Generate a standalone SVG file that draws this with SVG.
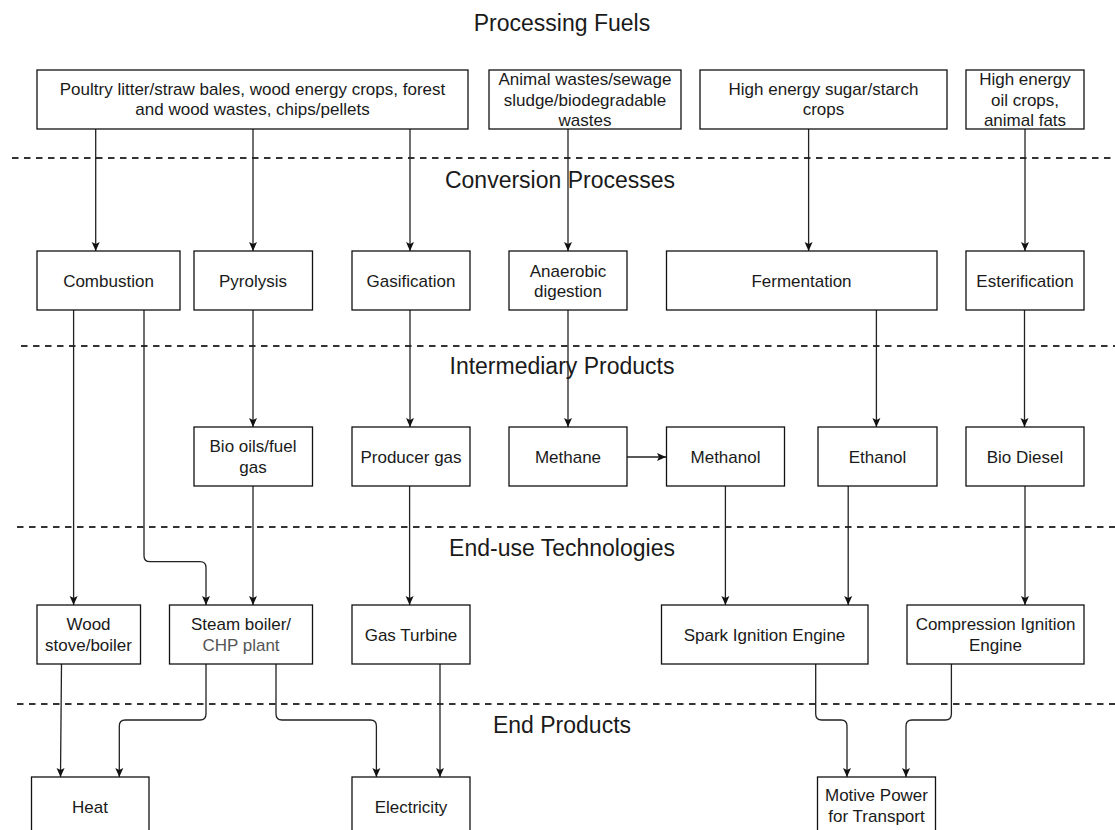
<svg xmlns="http://www.w3.org/2000/svg" width="1115" height="830" viewBox="0 0 1115 830">
<defs>
<style>
.bx{fill:#fff;stroke:#111;stroke-width:1.3}
.t{font-family:"Liberation Sans",Arial,sans-serif;font-size:17px;fill:#1a1a1a;text-anchor:middle}
.h{font-family:"Liberation Sans",Arial,sans-serif;font-size:23px;fill:#1a1a1a;text-anchor:middle}
.dash{stroke:#333;stroke-width:2;stroke-dasharray:6.5 5.5;fill:none}
.c{fill:none;stroke:#222;stroke-width:1.3;marker-end:url(#ar)}
</style>
<marker id="ar" markerUnits="userSpaceOnUse" markerWidth="10" markerHeight="10" viewBox="0 0 10 10" refX="9" refY="5" orient="auto">
<path d="M0,1 L9,5 L0,9 L2,5 z" fill="#111"/>
</marker>
</defs>
<rect width="1115" height="830" fill="#fff"/>

<g id="section-labels">
<text class="h" x="562" y="30.5">Processing Fuels</text>
<text class="h" x="560" y="187.5">Conversion Processes</text>
<text class="h" x="562" y="374">Intermediary Products</text>
<text class="h" x="562" y="556">End-use Technologies</text>
<text class="h" x="562" y="733">End Products</text>
</g>

<g id="separators">
<line class="dash" x1="12" y1="158" x2="1115" y2="158"/>
<line class="dash" x1="21" y1="346" x2="1115" y2="346"/>
<line class="dash" x1="17" y1="527" x2="1115" y2="527"/>
<line class="dash" x1="17" y1="704" x2="1115" y2="704"/>
</g>

<g id="connectors">
<path class="c" d="M95.7,129 V251"/>
<path class="c" d="M253,129 V251"/>
<path class="c" d="M410,129 V251"/>
<path class="c" d="M568,129 V251"/>
<path class="c" d="M808.6,129 V251"/>
<path class="c" d="M1025,129 V251"/>

<path class="c" d="M253,310 V427"/>
<path class="c" d="M410,310 V427"/>
<path class="c" d="M568,310 V427"/>
<path class="c" d="M876.4,310 V427"/>
<path class="c" d="M1024.5,310 V427"/>
<path class="c" d="M627,457 H666"/>

<path class="c" d="M73.6,310 V605"/>
<path class="c" d="M144,310 V555.7 Q144,561.7 150,561.7 H200 Q206,561.7 206,567.7 V605"/>
<path class="c" d="M253,486 V605"/>
<path class="c" d="M409.6,486 V605"/>
<path class="c" d="M725.4,486 V605"/>
<path class="c" d="M848.2,486 V605"/>
<path class="c" d="M1025,486 V605"/>

<path class="c" d="M61.5,664 L60.5,777"/>
<path class="c" d="M206,664 V714 Q206,720 200,720 H125.3 Q119.3,720 119.3,726 V777"/>
<path class="c" d="M276,664 V714 Q276,720 282,720 H370.4 Q376.4,720 376.4,726 V777"/>
<path class="c" d="M440,664 V777"/>
<path class="c" d="M815.7,664 V714 Q815.7,720 821.7,720 H841 Q847,720 847,726 V777"/>
<path class="c" d="M951.4,664 V714 Q951.4,720 945.4,720 H912 Q906,720 906,726 V777"/>
</g>

<g id="n-poultry"><rect class="bx" x="37" y="70" width="431" height="59"/>
<text class="t" x="252.5" y="94.5">Poultry litter/straw bales, wood energy crops, forest</text>
<text class="t" x="252.5" y="115">and wood wastes, chips/pellets</text></g>
<g id="n-animal"><rect class="bx" x="489" y="70" width="192" height="59"/>
<text class="t" x="585" y="85">Animal wastes/sewage</text>
<text class="t" x="585" y="105.5">sludge/biodegradable</text>
<text class="t" x="585" y="126">wastes</text></g>
<g id="n-sugar"><rect class="bx" x="700" y="70" width="247" height="59"/>
<text class="t" x="823.5" y="94.5">High energy sugar/starch</text>
<text class="t" x="823.5" y="115">crops</text></g>
<g id="n-oil"><rect class="bx" x="966" y="70" width="118" height="59"/>
<text class="t" x="1025" y="85">High energy</text>
<text class="t" x="1025" y="105.5">oil crops,</text>
<text class="t" x="1025" y="126">animal fats</text></g>

<g id="n-combustion"><rect class="bx" x="37" y="251" width="143" height="59"/>
<text class="t" x="108.5" y="286.5">Combustion</text></g>
<g id="n-pyrolysis"><rect class="bx" x="194" y="251" width="118.5" height="59"/>
<text class="t" x="253" y="286.5">Pyrolysis</text></g>
<g id="n-gasification"><rect class="bx" x="352" y="251" width="118" height="59"/>
<text class="t" x="411" y="286.5">Gasification</text></g>
<g id="n-anaerobic"><rect class="bx" x="509" y="251" width="118" height="59"/>
<text class="t" x="568" y="276.5">Anaerobic</text>
<text class="t" x="568" y="297">digestion</text></g>
<g id="n-fermentation"><rect class="bx" x="666.5" y="251" width="270.5" height="59"/>
<text class="t" x="801.5" y="286.5">Fermentation</text></g>
<g id="n-esterification"><rect class="bx" x="966" y="251" width="118" height="59"/>
<text class="t" x="1025" y="286.5">Esterification</text></g>

<g id="n-biooils"><rect class="bx" x="194" y="427" width="118.5" height="59"/>
<text class="t" x="253" y="452">Bio oils/fuel</text>
<text class="t" x="253" y="472.5">gas</text></g>
<g id="n-producer"><rect class="bx" x="352" y="427" width="118" height="59"/>
<text class="t" x="411" y="462.5">Producer gas</text></g>
<g id="n-methane"><rect class="bx" x="509" y="427" width="118" height="59"/>
<text class="t" x="568" y="462.5">Methane</text></g>
<g id="n-methanol"><rect class="bx" x="666.5" y="427" width="118" height="59"/>
<text class="t" x="725.5" y="462.5">Methanol</text></g>
<g id="n-ethanol"><rect class="bx" x="818" y="427" width="119" height="59"/>
<text class="t" x="877.5" y="462.5">Ethanol</text></g>
<g id="n-biodiesel"><rect class="bx" x="966" y="427" width="118" height="59"/>
<text class="t" x="1025" y="462.5">Bio Diesel</text></g>

<g id="n-woodstove"><rect class="bx" x="37" y="605" width="103.5" height="59"/>
<text class="t" x="88.5" y="630">Wood</text>
<text class="t" x="88.5" y="650.5">stove/boiler</text></g>
<g id="n-steam"><rect class="bx" x="169.5" y="605" width="143" height="59"/>
<text class="t" x="241" y="630">Steam boiler/</text>
<text class="t" x="241" y="650.5" style="fill:#555">CHP plant</text></g>
<g id="n-gasturbine"><rect class="bx" x="352" y="605" width="118" height="59"/>
<text class="t" x="411" y="640.5">Gas Turbine</text></g>
<g id="n-spark"><rect class="bx" x="661.5" y="605" width="206.5" height="59"/>
<text class="t" x="764.5" y="640.5">Spark Ignition Engine</text></g>
<g id="n-compression"><rect class="bx" x="907" y="605" width="177" height="59"/>
<text class="t" x="995.5" y="630">Compression Ignition</text>
<text class="t" x="995.5" y="650.5">Engine</text></g>

<g id="n-heat"><rect class="bx" x="31.5" y="777" width="117.5" height="59"/>
<text class="t" x="90" y="812.5">Heat</text></g>
<g id="n-electricity"><rect class="bx" x="352" y="777" width="118" height="59"/>
<text class="t" x="411" y="812.5">Electricity</text></g>
<g id="n-motive"><rect class="bx" x="817.5" y="777" width="118" height="59"/>
<text class="t" x="876.5" y="801">Motive Power</text>
<text class="t" x="876.5" y="821.5">for Transport</text></g>
</svg>
